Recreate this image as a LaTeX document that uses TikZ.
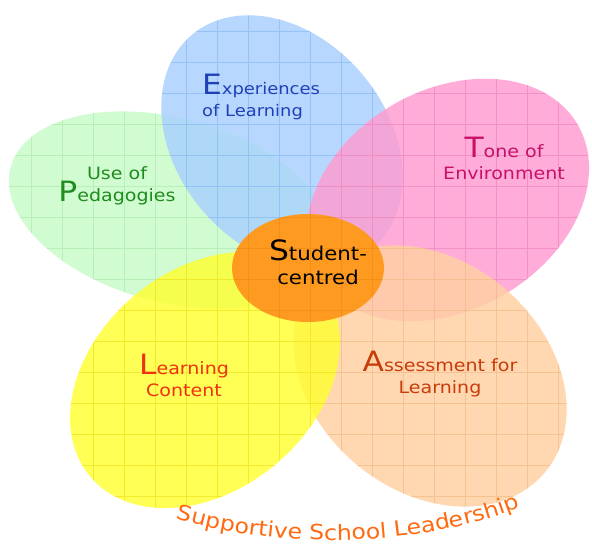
\documentclass[tikz,border=0pt]{standalone}
\usepackage{fontspec}
\newfontfamily\hand[FakeStretch=1.12]{DejaVu Sans}
\usetikzlibrary{decorations.text}
\definecolor{pgreen}{HTML}{C8FCC8}
\definecolor{ggreen}{HTML}{B0EAB0}
\definecolor{pblue}{HTML}{A8CFFF}
\definecolor{gblue}{HTML}{8CBDF5}
\definecolor{ppink}{HTML}{FF9CD0}
\definecolor{gpink}{HTML}{F088C0}
\definecolor{ppeach}{HTML}{FFD0A2}
\definecolor{gpeach}{HTML}{F2BC88}
\definecolor{pyellow}{HTML}{FFFF30}
\definecolor{gyellow}{HTML}{EEE420}
\definecolor{pcentre}{HTML}{FF9A20}
\definecolor{gcentre}{HTML}{F08C14}
\definecolor{tblue}{HTML}{2040B8}
\definecolor{tpink}{HTML}{C8106A}
\definecolor{tgreen}{HTML}{1E8C1E}
\definecolor{tred}{HTML}{F03010}
\definecolor{trust}{HTML}{C83C0A}
\definecolor{torange}{HTML}{FF6A10}
\newcommand\petal[8]{%
  \begin{scope}
    \clip[rotate around={#5:(#1,#2)}] (#1,#2) ellipse ({#3pt} and {#4pt});
    \fill[#6,fill opacity=#8] (0,0) rectangle (592,552);
    \draw[#7,line width=0.7pt,draw opacity=0.75,step=31pt] (0,0) grid (592,552);
  \end{scope}}
\newcommand\BigInit[1]{{\fontsize{28}{22}\selectfont #1}}
\tikzset{lbl/.style={font=\hand\fontsize{17}{22}\selectfont,align=center,inner sep=0pt}}
\begin{document}
\begin{tikzpicture}[x=1pt,y=-1pt]
\useasboundingbox (0,0) rectangle (592,552);
\fill[white] (0,0) rectangle (592,552);
% petals
\petal{170}{210}{165}{92}{-15}{pgreen}{ggreen}{0.82}
\petal{282}{142}{140}{105}{-50}{pblue}{gblue}{0.82}
\petal{448}{200}{150}{110}{30}{ppink}{gpink}{0.82}
\petal{430}{376}{150}{115}{-40}{ppeach}{gpeach}{0.82}
\petal{205}{380}{150}{110}{40}{pyellow}{gyellow}{0.82}
\petal{308}{268}{76}{54}{0}{pcentre}{gcentre}{1}
% labels
\node[lbl,text=tblue,align=left,font=\hand\fontsize{16}{22}\selectfont] (exp) at (261,97) {\BigInit{E}xperiences\\of Learning};
\node[lbl,text=tpink] (tone) at (504,158) {\BigInit{T}one of\\Environment};
\node[lbl,text=tgreen] (ped) at (117,186) {Use of\\\BigInit{P}edagogies};
\node[lbl,text=black,font=\hand\fontsize{19}{24}\selectfont] (stu) at (318,262) {\BigInit{S}tudent-\\centred};
\node[lbl,text=tred] (lc) at (184,375) {\BigInit{L}earning\\Content};
\node[lbl,text=trust] (afl) at (440,374) {\BigInit{A}ssessment for\\Learning};
% arched title
\path[decorate,decoration={text along path,text align=center,
  text={|\hand\fontsize{21}{21}\selectfont\color{torange}|Supportive School Leadership}}]
  (168,516) .. controls (270,550) and (420,550) .. (528,504);
\end{tikzpicture}
\end{document}
